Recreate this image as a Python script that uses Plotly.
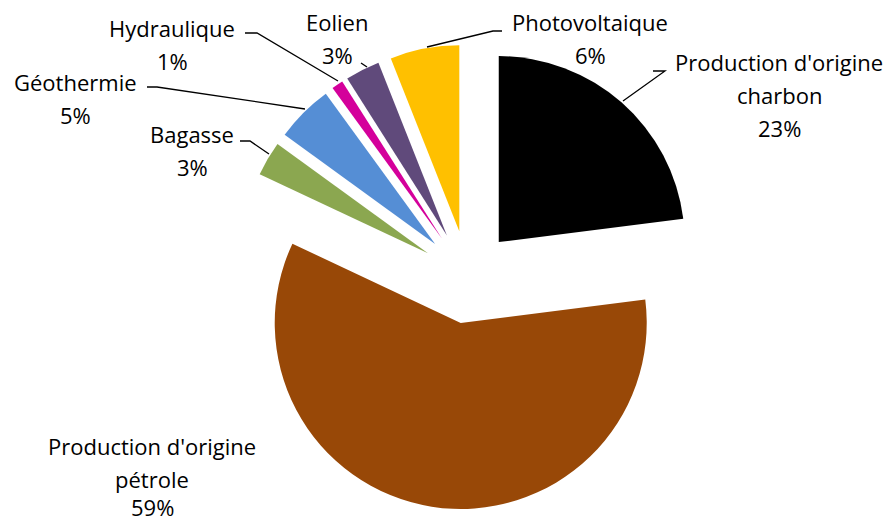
import plotly.graph_objects as go

# ---- data ----
labels = ["Production d'origine charbon", "Production d'origine pétrole", "Bagasse",
          "Géothermie", "Hydraulique", "Eolien", "Photovoltaique"]
values = [23, 59, 3, 5, 1, 3, 6]
colors = ["#000000", "#984807", "#8BA750", "#558ED5", "#D4009B", "#604A7B", "#FFC000"]
# label text lines (name lines + percent)
label_lines = [["Production d'origine", "charbon", "23%"],
               ["Production d'origine", "pétrole", "59%"],
               ["Bagasse", "3%"],
               ["Géothermie", "5%"],
               ["Hydraulique", "1%"],
               ["Eolien", "3%"],
               ["Photovoltaique", "6%"]]

W, H = 891, 524
# layout (pixels)
cx, cy, r, pull = 468, 277, 186, 0.25
half = r * (1 + pull)

fig = go.Figure(go.Pie(
    labels=labels, values=values, sort=False, direction="clockwise", rotation=0,
    marker=dict(colors=colors, line=dict(width=0)),
    pull=[pull] * len(values), textinfo="none", hoverinfo="label+percent",
    domain=dict(x=[(cx - half) / W, (cx + half) / W],
                y=[1 - (cy + half) / H, 1 - (cy - half) / H]),
    showlegend=False,
))

# label positions: (center x, first line y) in pixels, line spacing
label_pos = [(779, 62), (152, 446), (192, 134), (75, 82), (172, 28), (337, 22), (590, 22)]
line_gap = 33
FONT = dict(family="Open Sans", size=22, color="#000000")
annotations = []
for lines, (lx, ly) in zip(label_lines, label_pos):
    for k, t in enumerate(lines):
        yc = ly + k * line_gap
        ann = dict(text=t, x=lx / W, y=1 - yc / H,
                   xref="paper", yref="paper", showarrow=False,
                   xanchor="center", yanchor="middle", font=FONT)
        if yc + 15 > H:  # keep the lowest line inside the page
            ann.update(y=0, yanchor="bottom")
        annotations.append(ann)

# leader lines (pixel paths)
leaders = [
    [(653, 71), (665, 71), (623, 101)],
    [(245, 33), (257, 33), (338, 81)],
    [(147, 87), (157, 87), (305, 109)],
    [(240, 141), (250, 141), (269, 154)],
    [(361, 63), (367, 67)],
    [(502, 31), (493, 31), (427, 47)],
]
shapes = []
for pts in leaders:
    path = "M " + " L ".join(f"{x / W:.5f},{1 - y / H:.5f}" for x, y in pts)
    shapes.append(dict(type="path", path=path, xref="paper", yref="paper",
                       line=dict(color="#000000", width=1.3)))

fig.update_layout(width=W, height=H, margin=dict(l=0, r=0, t=0, b=0),
                  paper_bgcolor="white", plot_bgcolor="white",
                  annotations=annotations, shapes=shapes)
fig.write_html("out.html", config={"displayModeBar": False},
               post_script="document.body.style.margin='0';")
